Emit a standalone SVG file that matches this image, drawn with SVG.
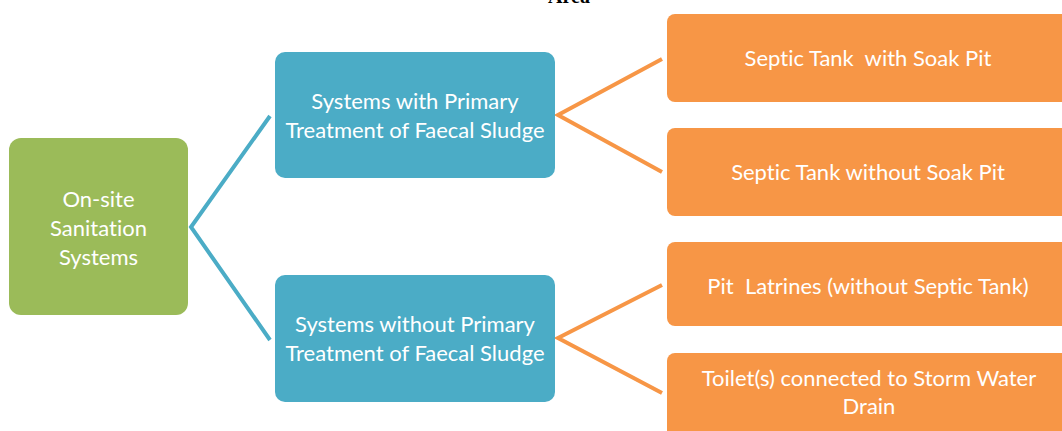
<svg xmlns="http://www.w3.org/2000/svg" width="1062" height="431" viewBox="0 0 1062 431">
  <style>
    .lbl { font-family: Lato, "Open Sans", "Liberation Sans", sans-serif; font-size: 22px; fill: #ffffff; text-anchor: middle; white-space: pre; font-variant-ligatures: none; }
    .green { fill: #9BBB59; }
    .blue { fill: #4BACC6; }
    .orange { fill: #F79646; }
    .conn-blue { fill: none; stroke: #4BACC6; stroke-width: 4; }
    .conn-orange { fill: none; stroke: #F79646; stroke-width: 4; }
    .title { font-family: "Liberation Serif", serif; font-weight: bold; font-size: 20px; fill: #000000; text-anchor: middle; }
  </style>
  <rect width="1062" height="431" fill="#ffffff"/>
  <text class="title" x="569" y="3">Area</text>

  <g id="connectors">
    <polyline class="conn-blue" points="270,116 191,227 270,340"/>
    <polyline class="conn-orange" points="662,59 558,115 662,172"/>
    <polyline class="conn-orange" points="662,285 558,338 662,393"/>
  </g>

  <g id="node-onsite">
    <rect class="green" x="9" y="138" width="179" height="177" rx="12"/>
    <text class="lbl" x="98.5" y="207">On-site</text>
    <text class="lbl" x="98.5" y="236">Sanitation</text>
    <text class="lbl" x="98.5" y="265">Systems</text>
  </g>

  <g id="node-with-primary">
    <rect class="blue" x="275" y="52" width="280" height="126" rx="10"/>
    <text class="lbl" x="415" y="109">Systems with Primary</text>
    <text class="lbl" x="415" y="138">Treatment of Faecal Sludge</text>
  </g>

  <g id="node-without-primary">
    <rect class="blue" x="275" y="275" width="280" height="127" rx="10"/>
    <text class="lbl" x="415" y="332">Systems without Primary</text>
    <text class="lbl" x="415" y="361">Treatment of Faecal Sludge</text>
  </g>

  <g id="node-septic-soak">
    <rect class="orange" x="667" y="14" width="402" height="88" rx="8"/>
    <text class="lbl" x="868" y="66">Septic Tank  with Soak Pit</text>
  </g>

  <g id="node-septic-no-soak">
    <rect class="orange" x="667" y="128" width="402" height="88" rx="8"/>
    <text class="lbl" x="868" y="180">Septic Tank without Soak Pit</text>
  </g>

  <g id="node-pit-latrines">
    <rect class="orange" x="667" y="242" width="402" height="84" rx="8"/>
    <text class="lbl" x="868" y="294">Pit  Latrines (without Septic Tank)</text>
  </g>

  <g id="node-storm-drain">
    <rect class="orange" x="667" y="353" width="402" height="90" rx="8"/>
    <text class="lbl" x="869" y="386">Toilet(s) connected to Storm Water</text>
    <text class="lbl" x="869" y="414">Drain</text>
  </g>
</svg>
